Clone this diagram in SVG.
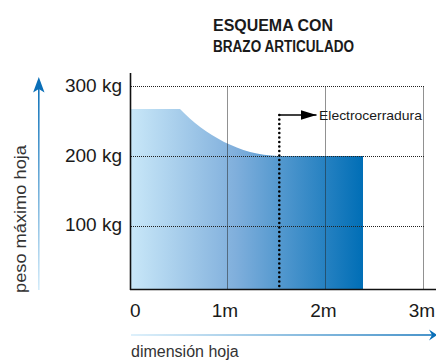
<svg xmlns="http://www.w3.org/2000/svg" width="436" height="362" viewBox="0 0 436 362">
<defs>
<linearGradient id="fillGrad" x1="131" y1="0" x2="363" y2="0" gradientUnits="userSpaceOnUse">
<stop offset="0" stop-color="#c8e7f8"/>
<stop offset="0.45" stop-color="#80afdc"/>
<stop offset="1" stop-color="#006eb6"/>
</linearGradient>
<linearGradient id="xArrowGrad" x1="130" y1="0" x2="436" y2="0" gradientUnits="userSpaceOnUse">
<stop offset="0" stop-color="#d4ecfa"/>
<stop offset="1" stop-color="#0a6fb8"/>
</linearGradient>
<linearGradient id="yArrowGrad" x1="0" y1="290" x2="0" y2="80" gradientUnits="userSpaceOnUse">
<stop offset="0" stop-color="#d4ecfa"/>
<stop offset="1" stop-color="#0a6fb8"/>
</linearGradient>
<marker id="blackArrow" markerWidth="16" markerHeight="10" refX="16" refY="5" orient="auto" markerUnits="userSpaceOnUse">
<path d="M0,0 L16,5 L0,10 Z" fill="#000"/>
</marker>
</defs>
<style>
.lbl{font-family:"Liberation Sans",Arial,sans-serif;fill:#1a1a1a;}
.axis{stroke:#111;stroke-width:1.6;fill:none;}
.grid{stroke:#222;stroke-width:1;stroke-dasharray:1 1;fill:none;}
</style>

<g id="title">
<text class="lbl" x="213" y="31" font-size="16" font-weight="bold" textLength="120" lengthAdjust="spacingAndGlyphs">ESQUEMA CON</text>
<text class="lbl" x="213" y="52" font-size="16" font-weight="bold" textLength="141" lengthAdjust="spacingAndGlyphs">BRAZO ARTICULADO</text>
</g>

<g id="area">
<path d="M131,109 L180,109 C205,135 240,155 278,156 L363,156 L363,289.5 L131,289.5 Z" fill="url(#fillGrad)"/>
</g>

<g id="grid">
<path class="grid" d="M131,86.5 H424 M131,156.5 H424 M131,226.5 H424"/>
<path class="grid" d="M227.5,86.5 V289 M325.5,86.5 V289 M423.5,86.5 V289"/>
</g>

<g id="axes">
<path class="axis" d="M130.5,73 V290"/>
<path class="axis" d="M130,289.5 H436"/>
</g>

<g id="y-labels">
<text class="lbl" x="122" y="92" font-size="19" text-anchor="end">300 kg</text>
<text class="lbl" x="122" y="162" font-size="19" text-anchor="end">200 kg</text>
<text class="lbl" x="122" y="231" font-size="19" text-anchor="end">100 kg</text>
</g>

<g id="x-labels">
<text class="lbl" x="130" y="317" font-size="19">0</text>
<text class="lbl" x="225" y="317" font-size="19" text-anchor="middle">1m</text>
<text class="lbl" x="323.5" y="317" font-size="19" text-anchor="middle">2m</text>
<text class="lbl" x="422" y="317" font-size="19" text-anchor="middle">3m</text>
</g>

<g id="connectors">
<path d="M279.3,115 V289" stroke="#000" stroke-width="2.6" stroke-linecap="round" stroke-dasharray="0 4.5" fill="none"/>
<path d="M279.3,115 H316.5" stroke="#000" stroke-width="1.3" fill="none" marker-end="url(#blackArrow)"/>
</g>

<g id="electrocerradura">
<text class="lbl" x="319" y="120" font-size="13" textLength="103" lengthAdjust="spacingAndGlyphs">Electrocerradura</text>
</g>

<g id="y-axis-arrow">
<path d="M38.8,290 V88" stroke="url(#yArrowGrad)" stroke-width="1.6" fill="none"/>
<path d="M38.8,77 L44.5,92.5 L38.8,89 L33.1,92.5 Z" fill="#0a6fb8"/>
<text class="lbl" x="0" y="0" font-size="17" transform="translate(25.5,293) rotate(-90)" textLength="148" lengthAdjust="spacingAndGlyphs" style="fill:#333">peso máximo hoja</text>
</g>

<g id="x-axis-arrow">
<path d="M131,335 H432" stroke="url(#xArrowGrad)" stroke-width="1.6" fill="none"/>
<path d="M437,335 L429,329.5 L432,335 L429,340.5 Z" fill="#0a6fb8"/>
<text class="lbl" x="131" y="357" font-size="16" style="fill:#333">dimensión hoja</text>
</g>
</svg>
